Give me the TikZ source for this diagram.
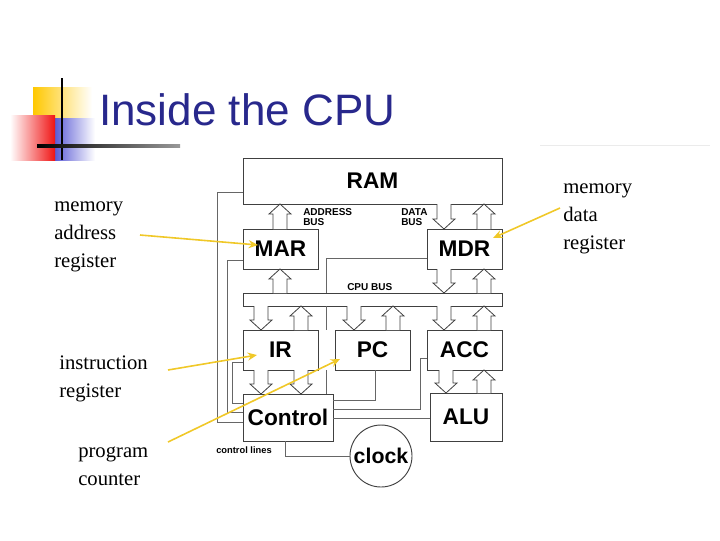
\documentclass[tikz,border=0pt]{standalone}
\usepackage{fontspec}
\usetikzlibrary{arrows.meta}
\setmainfont{Liberation Serif}
\newfontfamily\sansf{Liberation Sans}
\begin{document}
\begin{tikzpicture}[x=0.75pt,y=-0.75pt,
  box/.style={draw=black!75,line width=0.7pt,fill=white,inner sep=0pt,font=\sansf\bfseries\fontsize{17}{17}\selectfont},
  wire/.style={draw=black!60,line width=0.6pt},
  hol/.style={draw=black!75,line width=0.6pt,fill=white},
  ylw/.style={draw={rgb,255:red,240;green,200;blue,40},line width=1.2pt,-{Stealth[length=7pt,width=6pt]}},
  lab/.style={font=\fontsize{15.5}{21}\selectfont,align=left,anchor=north west,inner sep=0pt}]
\newcommand\hup[3]{\draw[hol] (#1-7,#2) -- (#1-7,#3+10) -- (#1-11,#3+10) -- (#1,#3) -- (#1+11,#3+10) -- (#1+7,#3+10) -- (#1+7,#2);}
\newcommand\hdn[3]{\draw[hol] (#1-7,#2) -- (#1-7,#3-10) -- (#1-11,#3-10) -- (#1,#3) -- (#1+11,#3-10) -- (#1+7,#3-10) -- (#1+7,#2);}
\useasboundingbox (0,0) rectangle (720,540);
% decoration
\fill[left color={rgb,255:red,255;green,200;blue,0},right color=white] (33,87) rectangle (92,130);
\fill[left color={rgb,255:red,40;green,40;blue,200},right color=white] (42,118) rectangle (95,160);
\fill[left color=white,right color={rgb,255:red,240;green,20;blue,20}] (10,115) rectangle (55,160);
\draw[line width=1.5pt] (62,78) -- (62,160);
\shade[left color=black,right color=black!40] (37,144) rectangle (180,147);
\fill[black!8] (540,144.5) rectangle (710,146);
\node[font=\sansf\fontsize{33}{33}\selectfont,text={rgb,255:red,40;green,40;blue,140},anchor=west,inner sep=0pt] (title) at (99,110) {Inside the CPU};
% boxes
\node[box,minimum width=259*0.75pt,minimum height=46*0.75pt] (ram) at (372.5,181) {RAM};
\node[box,minimum width=75*0.75pt,minimum height=40*0.75pt] (mar) at (280.5,249) {MAR};
\node[box,minimum width=75*0.75pt,minimum height=40*0.75pt] (mdr) at (464.5,249) {MDR};
\node[box,minimum width=259*0.75pt,minimum height=13*0.75pt] (bus) at (372.5,299.5) {};
\node[box,minimum width=75*0.75pt,minimum height=40*0.75pt] (ir) at (280.5,350) {IR};
\node[box,minimum width=75*0.75pt,minimum height=40*0.75pt] (pc) at (372.5,350) {PC};
\node[box,minimum width=75*0.75pt,minimum height=40*0.75pt] (acc) at (464.5,350) {ACC};
\node[box,minimum width=90*0.75pt,minimum height=47*0.75pt] (ctl) at (288,417.5) {Control};
\node[box,minimum width=72*0.75pt,minimum height=48*0.75pt] (alu) at (466,417) {ALU};
\node[box,circle,minimum size=62*0.75pt,font=\sansf\bfseries\fontsize{16}{16}\selectfont] (clk) at (381,456) {clock};
\node[font=\sansf\bfseries\fontsize{7.5}{8}\selectfont,align=left,anchor=west,inner sep=0pt] (ab) at (303,217) {ADDRESS\\BUS};
\node[font=\sansf\bfseries\fontsize{7.5}{8}\selectfont,align=left,anchor=west,inner sep=0pt] (db) at (401,217) {DATA\\BUS};
\node[font=\sansf\bfseries\fontsize{7.5}{8}\selectfont,anchor=west,inner sep=0pt] (cb) at (347,287) {CPU BUS};
\node[font=\sansf\bfseries\fontsize{7}{8}\selectfont,anchor=west,inner sep=0pt] (cl) at (216,450) {control lines};
% wires
\draw[wire] (ram.west |- 0,192) -- (217,192) -- (217,422) -- (ctl.west |- 0,422);
\draw[wire] (mar.west |- 0,260) -- (227,260) -- (227,412) -- (ctl.west |- 0,412);
\draw[wire] (ir.west |- 0,362) -- (232,362) -- (232,403) -- (ctl.west |- 0,403);
\draw[wire] (mdr.west |- 0,258) -- (326,258) -- (326,293);
\draw[wire] (326,306) -- (326,330);
\draw[wire] (326,370) -- (ctl.north -| 326,0);
\draw[wire] (pc.south -| 375,0) -- (375,400) -- (ctl.east |- 0,400);
\draw[wire] (acc.west |- 0,358) -- (420,358) -- (420,409) -- (ctl.east |- 0,409);
\draw[wire] (ctl.east |- 0,418) -- (alu.west |- 0,418);
\draw[wire] (ctl.south -| 285,0) -- (285,456) -- (clk.west);
% hollow arrows
\hup{280}{229}{204}
\hdn{444}{204}{229}
\hup{484}{229}{204}
\hup{280}{293}{269}
\hdn{444}{269}{293}
\hup{484}{293}{269}
\hdn{261}{306}{330}
\hup{301}{330}{306}
\hdn{354}{306}{330}
\hup{393}{330}{306}
\hdn{444}{306}{330}
\hup{484}{330}{306}
\hdn{261}{370}{394}
\hdn{301}{370}{394}
\hdn{446}{370}{393}
\hup{484}{393}{370}
% labels
\node[lab] (l1) at (54,201) {memory\\address\\register};
\node[lab] (l2) at (59,356) {instruction\\register};
\node[lab] (l3) at (78,447) {program\\counter};
\node[lab] (l4) at (563,183) {memory\\data\\register};
\coordinate (s1) at (140,235); \coordinate (t1) at (258,245);
\coordinate (s2) at (168,370); \coordinate (t2) at (257,355);
\coordinate (s3) at (168,442); \coordinate (t3) at (340,359);
\coordinate (s4) at (560,208); \coordinate (t4) at (493,238);
\draw[ylw] (s1) -- (t1);
\draw[ylw] (s2) -- (t2);
\draw[ylw] (s3) -- (t3);
\draw[ylw] (s4) -- (t4);
\end{tikzpicture}
\end{document}
